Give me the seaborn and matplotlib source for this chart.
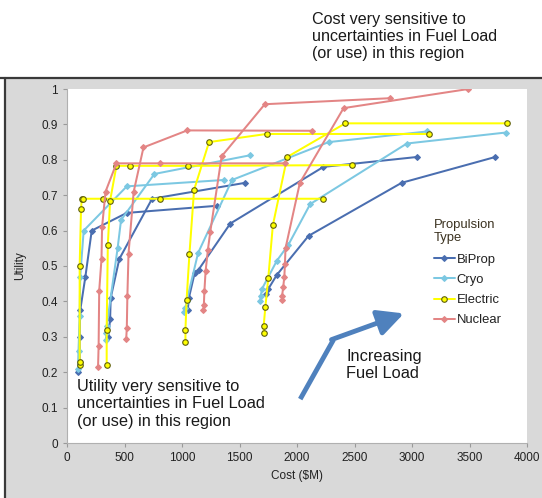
import matplotlib
matplotlib.use("Agg")
import pandas as pd
import matplotlib.pyplot as plt
import seaborn as sns
from matplotlib.lines import Line2D
from matplotlib.patches import Rectangle

# -------------------------
# DATA (one list per fuel-load curve)
# -------------------------
TYPES = ["BiProp", "Cryo", "Electric", "Nuclear"]

BIPROP_COST = [
    [95, 110, 110, 115, 160, 215, 520, 1300],
    [360, 375, 380, 455, 740, 1550],
    [1050, 1060, 1110, 1145, 1420, 2230, 3045],
    [1730, 1750, 1825, 2100, 2910, 3725],
]
BIPROP_UTIL = [
    [0.20, 0.23, 0.30, 0.375, 0.47, 0.60, 0.65, 0.67],
    [0.30, 0.35, 0.41, 0.52, 0.69, 0.735],
    [0.375, 0.41, 0.48, 0.49, 0.62, 0.78, 0.808],
    [0.42, 0.435, 0.475, 0.585, 0.735, 0.808],
]

CRYO_COST = [
    [95, 100, 110, 115, 145, 520, 1365],
    [340, 342, 345, 440, 470, 760, 1595],
    [1020, 1030, 1040, 1140, 1435, 2275, 3130],
    [1680, 1685, 1695, 1825, 1925, 2115, 2955, 3815],
]
CRYO_UTIL = [
    [0.21, 0.26, 0.36, 0.47, 0.60, 0.725, 0.743],
    [0.29, 0.31, 0.33, 0.55, 0.63, 0.76, 0.813],
    [0.37, 0.38, 0.40, 0.537, 0.743, 0.85, 0.88],
    [0.40, 0.415, 0.435, 0.515, 0.56, 0.675, 0.846, 0.877],
]

ELECTRIC_COST = [
    [110, 110, 110, 122, 128, 140, 315, 810, 2230],
    [345, 345, 355, 375, 430, 550, 1050, 2475],
    [1030, 1030, 1040, 1065, 1105, 1235, 1735, 3150],
    [1710, 1710, 1725, 1750, 1790, 1915, 2420, 3825],
]
ELECTRIC_UTIL = [
    [0.22, 0.23, 0.50, 0.66, 0.69, 0.69, 0.69, 0.69, 0.69],
    [0.22, 0.32, 0.56, 0.685, 0.783, 0.783, 0.783, 0.785],
    [0.285, 0.32, 0.405, 0.535, 0.715, 0.85, 0.873, 0.873],
    [0.31, 0.33, 0.385, 0.465, 0.615, 0.808, 0.903, 0.903],
]

NUCLEAR_COST = [
    [270, 275, 280, 300, 305, 335, 430, 810, 1895],
    [515, 520, 525, 535, 580, 665, 1045, 2130],
    [1185, 1190, 1195, 1205, 1225, 1245, 1345, 1720, 2810],
    [1870, 1870, 1880, 1890, 1895, 1900, 2025, 2405, 3490],
]
NUCLEAR_UTIL = [
    [0.215, 0.275, 0.43, 0.52, 0.61, 0.71, 0.79, 0.79, 0.79],
    [0.295, 0.325, 0.415, 0.535, 0.71, 0.835, 0.883, 0.882],
    [0.375, 0.39, 0.43, 0.485, 0.545, 0.595, 0.81, 0.957, 0.974],
    [0.405, 0.415, 0.44, 0.47, 0.505, 0.55, 0.735, 0.946, 1.0],
]

X_TICKS = [0, 500, 1000, 1500, 2000, 2500, 3000, 3500, 4000]
Y_TICKS = [0, 0.1, 0.2, 0.3, 0.4, 0.5, 0.6, 0.7, 0.8, 0.9, 1.0]
Y_TICK_LABELS = ["0", "0.1", "0.2", "0.3", "0.4", "0.5", "0.6", "0.7", "0.8", "0.9", "1"]

# -------------------------
# build long table
# -------------------------
rows = []
for t, costs, utils in zip(TYPES,
                           [BIPROP_COST, CRYO_COST, ELECTRIC_COST, NUCLEAR_COST],
                           [BIPROP_UTIL, CRYO_UTIL, ELECTRIC_UTIL, NUCLEAR_UTIL]):
    for i, (cs, us) in enumerate(zip(costs, utils)):
        for c, u in zip(cs, us):
            rows.append({"type": t, "curve": f"{t}_{i}", "cost": c, "utility": u})
df = pd.DataFrame(rows)

# styles
COLORS = {"BiProp": "#4a6eb0", "Cryo": "#7cc8e2", "Electric": "#ffff00", "Nuclear": "#e38585"}
MARKERS = {"BiProp": "D", "Cryo": "D", "Electric": "o", "Nuclear": "D"}
MSIZE = {"BiProp": 3.0, "Cryo": 3.0, "Electric": 4.0, "Nuclear": 3.0}
EDGE = {"BiProp": "#4a6eb0", "Cryo": "#7cc8e2", "Electric": "#5e5e10", "Nuclear": "#e38585"}
LW = 1.45

sns.set_theme(style="white")
plt.rcParams["font.family"] = ["Liberation Sans", "DejaVu Sans"]

W, H = 542, 498
fig = plt.figure(figsize=(W / 100, H / 100), dpi=100)
fig.patch.set_facecolor("white")


def px(x, y):
    return (x / W, 1 - y / H)


# grey frame behind the chart
fig.add_artist(Rectangle(px(5, H), 1, (H - 78) / H, transform=fig.transFigure,
                         facecolor="#d9d9d9", edgecolor="none", zorder=-2))
fig.add_artist(Line2D([0, 1], [1 - 78 / H] * 2, transform=fig.transFigure,
                      color="#3a3a3a", lw=1.6, zorder=-1))
fig.add_artist(Line2D([5 / W] * 2, [0, 1 - 78 / H], transform=fig.transFigure,
                      color="#3a3a3a", lw=1.6, zorder=-1))

ax = fig.add_axes([67 / W, 55 / H, 460 / W, 354 / H])
ax.set_facecolor("white")

for t in TYPES:
    sub = df[df["type"] == t]
    sns.lineplot(data=sub, x="cost", y="utility", units="curve", estimator=None,
                 sort=False, color=COLORS[t], marker=MARKERS[t], markersize=MSIZE[t],
                 markeredgecolor=EDGE[t], markeredgewidth=0.8, linewidth=LW,
                 legend=False, ax=ax)

ax.set_xlim(0, 4000)
ax.set_ylim(0, 1.0)
ax.set_xticks(X_TICKS)
ax.set_yticks(Y_TICKS)
ax.set_yticklabels(Y_TICK_LABELS)
ax.tick_params(axis="both", labelsize=8.5, colors="#999999", labelcolor="#222222",
               length=3, width=0.8, direction="out", bottom=True, left=True)
ax.set_xlabel("Cost ($M)", fontsize=8.5, color="#222222", labelpad=4)
ax.set_ylabel("Utility", fontsize=8.5, color="#222222", labelpad=11)
for s in ["top", "right"]:
    ax.spines[s].set_visible(False)
for s in ["left", "bottom"]:
    ax.spines[s].set_color("#b0b0b0")
    ax.spines[s].set_linewidth(0.8)

# legend
handles = [Line2D([], [], color=COLORS[t], marker=MARKERS[t], markersize=MSIZE[t],
                  markeredgecolor=EDGE[t], markeredgewidth=0.8, lw=LW) for t in TYPES]
leg = ax.legend(handles, TYPES, title="Propulsion\nType", loc="upper left",
                bbox_to_anchor=px(434, 219), bbox_transform=fig.transFigure,
                frameon=False, fontsize=9.4, title_fontsize=9.4, handlelength=1.6,
                handletextpad=0.15, labelspacing=0.62, alignment="left",
                borderpad=0, borderaxespad=0)
leg.get_title().set_color("#3b3220")
leg.get_title().set_linespacing(1.1)
leg._legend_box.sep = 7
for txt in leg.get_texts():
    txt.set_color("#222222")

# annotations
fig.text(*px(312, 12), "Cost very sensitive to\nuncertainties in Fuel Load\n(or use) in this region",
         fontsize=11.6, color="#1a1a1a", va="top", ha="left", linespacing=1.15)
fig.text(*px(77, 379), "Utility very sensitive to\nuncertainties in Fuel Load\n(or use) in this region",
         fontsize=11.8, color="#1a1a1a", va="top", ha="left", linespacing=1.2)
fig.text(*px(346, 349), "Increasing\nFuel Load",
         fontsize=11.8, color="#1a1a1a", va="top", ha="left", linespacing=1.2)

# blue arrow
ax.plot([2028, 2318], [0.124, 0.292], color="#4f81bd", lw=3.5, solid_capstyle="butt")
ax.annotate("", xy=(2930, 0.366), xytext=(2300, 0.292),
            arrowprops=dict(arrowstyle="-|>,head_length=1.3,head_width=0.65",
                            color="#4f81bd", lw=3.5, shrinkA=0, shrinkB=0))

fig.savefig("out.png", dpi=100)
